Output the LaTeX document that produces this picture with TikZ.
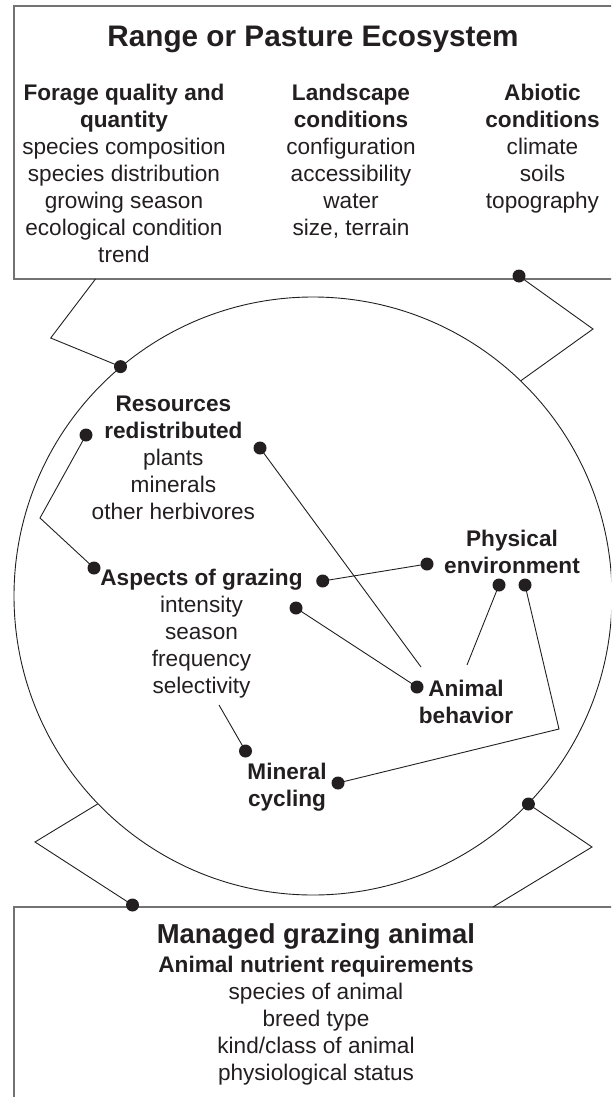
\documentclass[tikz,border=0pt]{standalone}
\usepackage{fontspec}
\setmainfont{Liberation Sans}
\definecolor{ink}{RGB}{35,31,32}
\tikzset{
  boxline/.style={draw=black!55, line width=1.2pt},
  link/.style={draw=ink, line width=0.9pt, line join=miter},
  dot/.style={circle, fill=ink, inner sep=0pt, minimum size=13pt},
  ringstyle/.style={circle, draw=ink, line width=0.9pt, inner sep=0pt, minimum size=598pt},
  txt/.style={align=center, inner sep=0pt, text=ink, font=\fontsize{22.6}{27}\selectfont},
  bigtitle/.style={inner sep=0pt, text=ink, font=\fontsize{29.7}{34}\selectfont\bfseries},
  subtitle/.style={inner sep=0pt, text=ink, font=\fontsize{27.4}{32}\selectfont\bfseries}
}
\begin{document}
\begin{tikzpicture}[x=1pt,y=-1pt]
\clip (0,0) rectangle (611,1097);
% boxes
\draw[boxline] (625,279) -- (14,279) -- (14,6) -- (625,6);
\draw[boxline] (625,907) -- (14,907) -- (14,1110);
% ring
\node[ringstyle] (ring) at (313,596) {};

% texts
\node[bigtitle, anchor=base] (title) at (313,47) {Range or Pasture Ecosystem};
\node[txt, anchor=north] (forage) at (124,83.8) {\textbf{Forage quality and}\\\textbf{quantity}\\species composition\\species distribution\\growing season\\ecological condition\\trend};
\node[txt, anchor=north] (landscape) at (351,83.8) {\textbf{Landscape}\\\textbf{conditions}\\configuration\\accessibility\\water\\size, terrain};
\node[txt, anchor=north] (abiotic) at (542.5,83.8) {\textbf{Abiotic}\\\textbf{conditions}\\climate\\soils\\topography};
\node[txt, anchor=north] (resources) at (173.4,395.8) {\textbf{Resources}\\\textbf{redistributed}\\plants\\minerals\\other herbivores};
\node[txt, anchor=north] (aspects) at (201.5,568.8) {\textbf{Aspects of grazing}\\intensity\\season\\frequency\\selectivity};
\node[txt, anchor=north] (physical) at (512,529.8) {\textbf{Physical}\\\textbf{environment}};
\node[txt, anchor=north] (animal) at (466,679.8) {\textbf{Animal}\\\textbf{behavior}};
\node[txt, anchor=north] (mineral) at (287,762.8) {\textbf{Mineral}\\\textbf{cycling}};
\node[subtitle, anchor=base] (managed) at (316,943) {Managed grazing animal};
\node[txt, anchor=north] (needs) at (316,955.8) {\textbf{Animal nutrient requirements}\\species of animal\\breed type\\kind/class of animal\\physiological status};

% dots
\node[dot] (dTL) at (ring.130) {};
\node[dot] (dTR) at (519,276) {};
\node[dot] (dResL) at (86,435) {};
\node[dot] (dResR) at (260,448) {};
\node[dot] (dAspL) at (94,568) {};
\node[dot] (dAsp1) at (322.7,581) {};
\node[dot] (dAsp2) at (296,608) {};
\node[dot] (dPhys) at (427,564) {};
\node[dot] (dPhysA) at (499,585) {};
\node[dot] (dPhysB) at (525,585) {};
\node[dot] (dAnim) at (417,687) {};
\node[dot] (dMinA) at (245.5,751) {};
\node[dot] (dMinB) at (338,783) {};
\node[dot] (dBR) at (ring.316) {};
\node[dot] (dBL) at (132.5,905) {};

% free ends and corners
\coordinate (tlStart) at (95.5,279);
\coordinate (tlCorner) at (50.7,338);
\coordinate (trCorner) at (593,329);
\coordinate (resCorner) at (40,518);
\coordinate (resEnd) at (421,667);
\coordinate (selStart) at (219,705);
\coordinate (physEnd) at (467,665);
\coordinate (physCorner) at (559,729);
\coordinate (blCorner) at (35,842);
\coordinate (brCorner) at (592,847);
\coordinate (brEnd) at (493,907);

% connectors
\draw[link] (tlStart) -- (tlCorner) -- (dTL.center);
\draw[link] (dTR.center) -- (trCorner) -- (ring.46);
\draw[link] (dResL.center) -- (resCorner) -- (dAspL.center);
\draw[link] (dResR.center) -- (resEnd);
\draw[link] (dAsp1.center) -- (dPhys.center);
\draw[link] (dAsp2.center) -- (dAnim.center);
\draw[link] (selStart) -- (dMinA.center);
\draw[link] (dPhysA.center) -- (physEnd);
\draw[link] (dPhysB.center) -- (physCorner) -- (dMinB.center);
\draw[link] (ring.224) -- (blCorner) -- (dBL.center);
\draw[link] (dBR.center) -- (brCorner) -- (brEnd);
\end{tikzpicture}
\end{document}
